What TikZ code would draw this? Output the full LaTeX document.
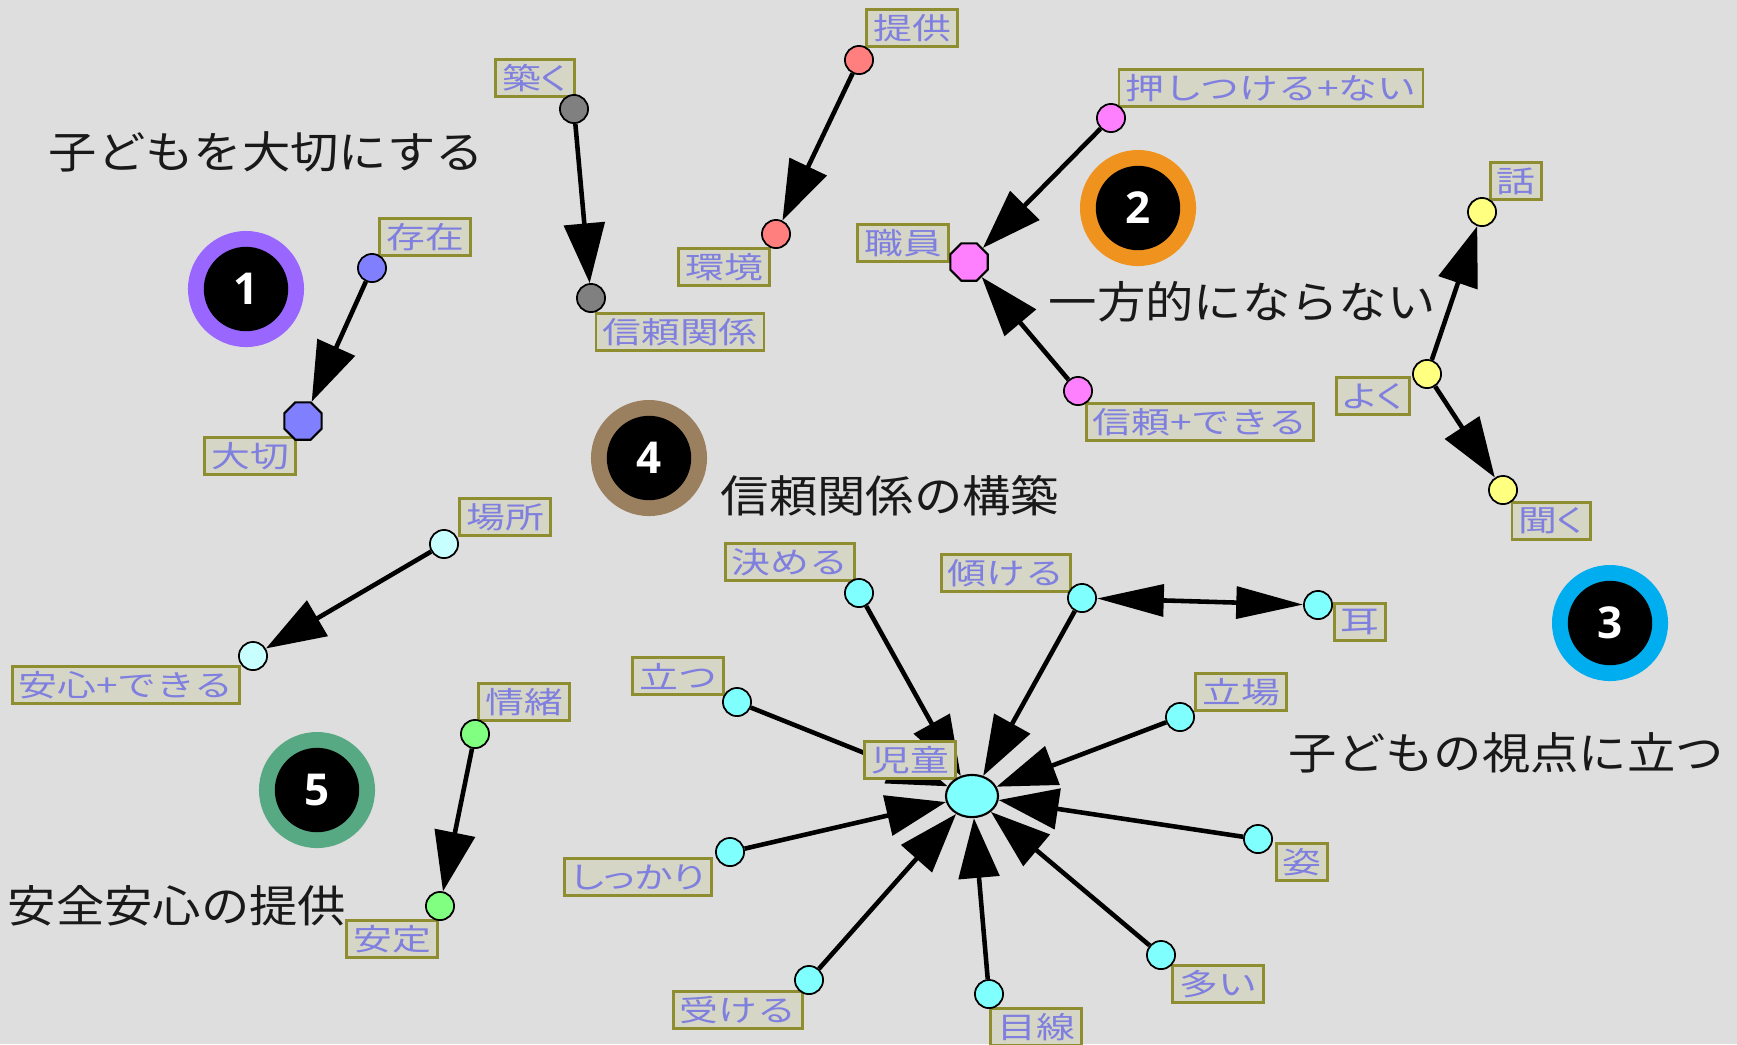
\documentclass[tikz,border=0pt]{standalone}
\usepackage{fontspec}
\usetikzlibrary{arrows.meta,shapes.geometric}
\newfontfamily\lblfam[FakeStretch=1.3]{Noto Sans CJK JP}
\newfontfamily\lblpfam[FakeStretch=1.3,RawFeature=+palt]{Noto Sans CJK JP}
\newfontfamily\ttlfam[FakeStretch=1.1]{Noto Sans CJK JP}
\newfontfamily\numfam{Open Sans}
\definecolor{bgc}{HTML}{DEDEDE}
\definecolor{lblfill}{HTML}{D6D6C6}
\definecolor{lblborder}{HTML}{8E8E30}
\definecolor{lbltext}{HTML}{7F7FE0}
\definecolor{cblue}{HTML}{8080FF}
\definecolor{cgray}{HTML}{808080}
\definecolor{csalmon}{HTML}{FF7F7F}
\definecolor{cpink}{HTML}{FF80FF}
\definecolor{cyellow}{HTML}{FFFF80}
\definecolor{clcyan}{HTML}{C8FFFF}
\definecolor{cgreen}{HTML}{80FF80}
\definecolor{ccyan}{HTML}{80FFFF}
\definecolor{bpurple}{HTML}{9966FF}
\definecolor{borange}{HTML}{F0921E}
\definecolor{bblue}{HTML}{00AEEF}
\definecolor{bbrown}{HTML}{9B8060}
\definecolor{bgreen}{HTML}{57A983}
\pgfdeclarelayer{edgelayer}
\pgfsetlayers{edgelayer,main}
\begin{document}
\begin{tikzpicture}[x=0.01cm,y=-0.01cm,
  lbl/.style={draw=lblborder, fill=lblfill, line width=0.8pt, text=lbltext,
    font=\lblfam\fontsize{8.5pt}{9pt}\selectfont, inner xsep=1.8pt, inner ysep=0.6pt,
    minimum height=10.5pt},
  lblp/.style={lbl, font=\lblpfam\fontsize{8.5pt}{9pt}\selectfont},
  dot/.style={circle, draw=black, line width=0.5pt, minimum size=8pt, inner sep=0pt},
  bigdot/.style={regular polygon, regular polygon sides=8, draw=black, line width=0.6pt,
    minimum size=11.5pt, inner sep=0pt},
  hubdot/.style={ellipse, draw=black, line width=0.6pt,
    minimum width=14.8pt, minimum height=12pt, inner sep=0pt},
  arr/.style={line width=1.3pt, -{Triangle[length=17pt,width=11.5pt]}},
  dblarr/.style={line width=1.3pt, {Triangle[length=19pt,width=9pt]}-{Triangle[length=19pt,width=9pt]}},
  badgeout/.style={circle, minimum size=33pt, inner sep=0pt},
  badgein/.style={circle, fill=black, minimum size=24pt, inner sep=0pt, text=white,
    font=\numfam\bfseries\fontsize{12.5pt}{14pt}\selectfont},
  ttl/.style={anchor=west, inner sep=0pt, text=black!90,
    font=\ttlfam\fontsize{12.5pt}{14pt}\selectfont}
]
\begin{pgfonlayer}{edgelayer}
\fill[bgc] (0,0) rectangle (1737,1044);
\end{pgfonlayer}
\useasboundingbox (0,0) rectangle (1737,1044);

% titles
\node[ttl] (t1) at (48,152) {子どもを大切にする};
\node[ttl] (t2) at (1048,302) {一方的にならない};
\node[ttl] (t3) at (1288,753) {子どもの視点に立つ};
\node[ttl] (t4) at (720,496) {信頼関係の構築};
\node[ttl] (t5) at (7,906) {安全安心の提供};

% badges
\node[badgeout, fill=bpurple] (b1o) at (246,289) {};
\node[badgein] (b1) at (246,289) {1};
\node[badgeout, fill=borange] (b2o) at (1138,208) {};
\node[badgein] (b2) at (1138,208) {2};
\node[badgeout, fill=bblue] (b3o) at (1610,623) {};
\node[badgein] (b3) at (1610,623) {3};
\node[badgeout, fill=bbrown] (b4o) at (649,458) {};
\node[badgein] (b4) at (649,458) {4};
\node[badgeout, fill=bgreen] (b5o) at (317,790) {};
\node[badgein] (b5) at (317,790) {5};

% labels
\node[lbl] (lsonzai) at (425,237) {存在};
\node[lbl] (ltaisetsu) at (250,456) {大切};
\node[lblp] (lkizuku) at (535,78) {築く};
\node[lbl] (lshinrai) at (680,332) {信頼関係};
\node[lbl] (lteikyo) at (912,28) {提供};
\node[lbl] (lkankyo) at (724,267) {環境};
\node[lbl] (lshokuin) at (903,243) {職員};
\node[lbl] (loshi) at (1271,88) {押しつける+ない};
\node[lbl] (lshinraidekiru) at (1200,422) {信頼+できる};
\node[lbl] (lhanashi) at (1516,181) {話};
\node[lblp] (lyoku) at (1373,396) {よく};
\node[lblp] (lkiku) at (1551,521) {聞く};
\node[lbl] (lbasho) at (505,517) {場所};
\node[lbl] (lanshin) at (126,685) {安心+できる};
\node[lbl] (ljocho) at (524,702) {情緒};
\node[lbl] (lantei) at (392,939) {安定};
\node[lbl] (lkimeru) at (790,562) {決める};
\node[lbl] (lkatamukeru) at (1006,573) {傾ける};
\node[lbl] (lmimi) at (1360,622) {耳};
\node[lbl] (ltatsu) at (678,676) {立つ};
\node[lbl] (lhub) at (910,760) {児童};
\node[lbl] (ltachiba) at (1241,692) {立場};
\node[lbl] (lsugata) at (1302,862) {姿};
\node[lblp] (lshikkari) at (638,877) {しっかり};
\node[lbl] (lukeru) at (738,1010) {受ける};
\node[lbl] (lmesen) at (1036,1027) {目線};
\node[lbl] (looi) at (1218,984) {多い};

% nodes
\node[dot, fill=cblue] (sonzai) at (372,268) {};
\node[bigdot, fill=cblue] (taisetsu) at (303,421) {};
\node[dot, fill=cgray] (kizuku) at (574,109) {};
\node[dot, fill=cgray] (shinrai) at (591,298) {};
\node[dot, fill=csalmon] (teikyo) at (859,60) {};
\node[dot, fill=csalmon] (kankyo) at (776,234) {};
\node[dot, fill=cpink] (oshi) at (1111,118) {};
\node[bigdot, fill=cpink] (shokuin) at (969,262) {};
\node[dot, fill=cpink] (shinraidekiru) at (1078,391) {};
\node[dot, fill=cyellow] (hanashi) at (1482,212) {};
\node[dot, fill=cyellow] (yoku) at (1427,374) {};
\node[dot, fill=cyellow] (kiku) at (1503,490) {};
\node[dot, fill=clcyan] (basho) at (444,544) {};
\node[dot, fill=clcyan] (anshin) at (253,656) {};
\node[dot, fill=cgreen] (jocho) at (475,734) {};
\node[dot, fill=cgreen] (antei) at (440,906) {};
\node[dot, fill=ccyan] (kimeru) at (859,593) {};
\node[dot, fill=ccyan] (katamukeru) at (1082,598) {};
\node[dot, fill=ccyan] (mimi) at (1318,605) {};
\node[dot, fill=ccyan] (tatsu) at (737,702) {};
\node[hubdot, fill=ccyan] (hub) at (972,796) {};
\node[dot, fill=ccyan] (tachiba) at (1180,717) {};
\node[dot, fill=ccyan] (sugata) at (1258,839) {};
\node[dot, fill=ccyan] (shikkari) at (730,852) {};
\node[dot, fill=ccyan] (ukeru) at (809,980) {};
\node[dot, fill=ccyan] (mesen) at (989,994) {};
\node[dot, fill=ccyan] (ooi) at (1161,955) {};

% edges
\begin{pgfonlayer}{edgelayer}
\draw[arr] (sonzai) -- (taisetsu);
\draw[arr] (kizuku) -- (shinrai);
\draw[arr] (teikyo) -- (kankyo);
\draw[arr] (oshi) -- (shokuin);
\draw[arr] (shinraidekiru) -- (shokuin);
\draw[arr] (yoku) -- (hanashi);
\draw[arr] (yoku) -- (kiku);
\draw[arr] (basho) -- (anshin);
\draw[arr] (jocho) -- (antei);
\draw[dblarr] (katamukeru) -- (mimi);
\foreach \s in {kimeru,katamukeru,tatsu,tachiba,sugata,shikkari,ukeru,mesen,ooi}
  \draw[arr] (\s) -- (hub);
\end{pgfonlayer}
\end{tikzpicture}
\end{document}
